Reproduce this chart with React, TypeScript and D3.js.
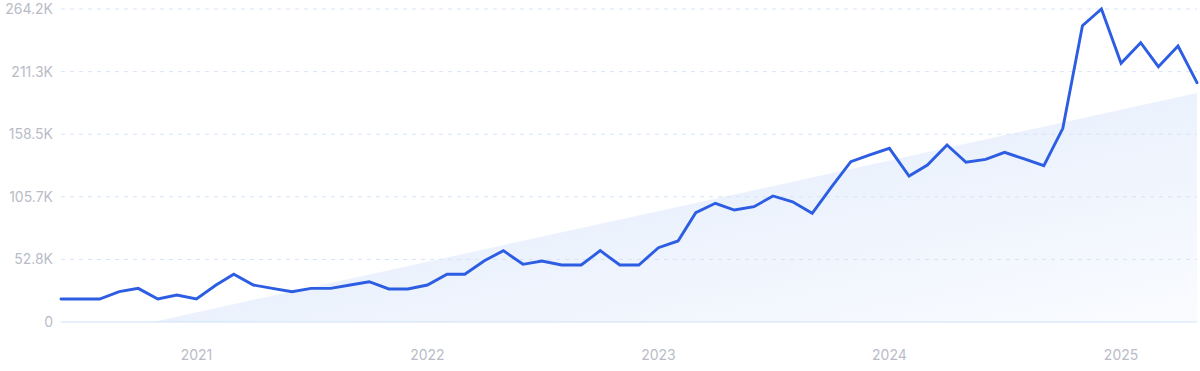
import React from "react";
import * as d3 from "d3";

const startMonth = "2020-06";
const values = [
  19.4, 19.4, 19.4, 25.6, 28.4, 19.4, 22.8, 19.4, 31.2, 40.3,
  31.2, 28.4, 25.6, 28.4, 28.4, 31.2, 34.0, 27.9, 27.9, 31.2,
  40.3, 40.3, 51.7, 60.2, 48.7, 51.5, 48.1, 48.1, 60.2, 48.1,
  48.1, 62.7, 68.4, 92.3, 100.2, 94.5, 97.3, 106.4, 101.5, 91.8,
  113.7, 135.3, 141.0, 146.6, 123.2, 132.5, 149.4, 134.8, 137.3, 143.2,
  137.6, 131.9, 163.5, 250.1, 264.2, 218.4, 235.8, 215.5, 233.0, 202.0,
];
const yTicks = [0, 52.8, 105.7, 158.5, 211.3, 264.2];
const yTickLabels = ["0", "52.8K", "105.7K", "158.5K", "211.3K", "264.2K"];
const xTickYears = [2021, 2022, 2023, 2024, 2025];
const trendStart = -17.0;
const trendEnd = 193.3;

const W = 1200;
const H = 371;
const M = { left: 61, right: 3, top: 9, bottom: 49 };

export default function App() {
  const parse = d3.timeParse("%Y-%m");
  const d0 = parse(startMonth) as Date;
  const dates = values.map((_, i) => d3.timeMonth.offset(d0, i));
  const x = d3
    .scaleTime()
    .domain([dates[0], dates[dates.length - 1]])
    .range([M.left, W - M.right]);
  const y = d3
    .scaleLinear()
    .domain([0, 264.2])
    .range([H - M.bottom, M.top]);

  const line = d3
    .line<number>()
    .x((_, i) => x(dates[i]))
    .y((v) => y(v));

  const x0 = x(dates[0]);
  const x1 = x(dates[dates.length - 1]);
  const yb = y(0);
  const trendPts: [number, number][] = [
    [x0, yb],
    [x0, y(trendStart)],
    [x1, y(trendEnd)],
    [x1, yb],
  ];
  const trendPath = d3.line()(trendPts) + "Z";

  const font = "Inter, 'Noto Sans', sans-serif";
  const labelColor = "#b9bcc7";

  return (
    <svg
      width={W}
      height={H}
      style={{ position: "absolute", left: 0, top: 0, display: "block" }}
    >
      <defs>
        <linearGradient id="tg" x1="0" y1="0" x2="1" y2="1">
          <stop offset="0%" stopColor="#dbe8fb" />
          <stop offset="55%" stopColor="#edf3fd" />
          <stop offset="100%" stopColor="#fbfcff" />
        </linearGradient>
        <clipPath id="plotClip">
          <rect x={x0} y={0} width={x1 - x0} height={yb} />
        </clipPath>
      </defs>
      <rect width={W} height={H} fill="#ffffff" />
      <path d={trendPath} fill="url(#tg)" clipPath="url(#plotClip)" />
      {yTicks.map((t, i) =>
        i === 0 ? null : (
          <line
            key={"g" + i}
            x1={x0}
            x2={x1}
            y1={y(t)}
            y2={y(t)}
            stroke="#d6e4f6"
            strokeWidth={1}
            strokeDasharray="4,5"
          />
        )
      )}
      <line x1={x0} x2={x1} y1={yb} y2={yb} stroke="#cce2fa" strokeWidth={1} />
      {yTicks.map((t, i) => (
        <text
          key={"yl" + i}
          x={53}
          y={y(t)}
          dy="0.36em"
          textAnchor="end"
          fill={labelColor}
          fontFamily={font}
          fontSize={14}
        >
          {yTickLabels[i]}
        </text>
      ))}
      {xTickYears.map((yr) => (
        <text
          key={"xl" + yr}
          x={x(new Date(yr, 0, 1))}
          y={355}
          dy="0.36em"
          textAnchor="middle"
          fill={labelColor}
          fontFamily={font}
          fontSize={14}
        >
          {yr}
        </text>
      ))}
      <path
        d={line(values) || ""}
        fill="none"
        stroke="#2d5de2"
        strokeWidth={2.9}
        strokeLinejoin="miter"
        strokeLinecap="round"
      />
    </svg>
  );
}
